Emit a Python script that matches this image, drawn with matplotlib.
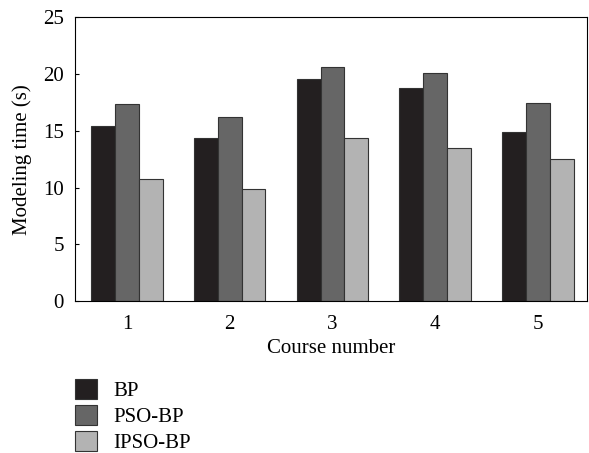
import matplotlib
matplotlib.use("Agg")
import matplotlib.pyplot as plt
import numpy as np
from matplotlib.patches import Patch

# Modeling time (s) per course.
courses = [1, 2, 3, 4, 5]
series_names = ["BP", "PSO-BP", "IPSO-BP"]
bp = [15.4, 14.4, 19.6, 18.8, 14.9]
pso_bp = [17.4, 16.2, 20.6, 20.1, 17.5]
ipso_bp = [10.8, 9.9, 14.4, 13.5, 12.5]

COLORS = ["#231f20", "#666666", "#b3b3b3"]

plt.rcParams["font.family"] = ["Liberation Serif", "DejaVu Serif"]
plt.rcParams["font.size"] = 15

fig = plt.figure(figsize=(5.89, 4.53), dpi=100)
ax = fig.add_axes([0.1273, 0.3355, 0.8693, 0.6259])

x = np.array(courses, dtype=float)
width = 0.232
for i, (vals, color) in enumerate(zip((bp, pso_bp, ipso_bp), COLORS)):
    ax.bar(x + (i - 1) * width, vals, width, color=color,
           edgecolor="#333333", linewidth=0.8)

ax.set_xlim(0.494, 5.477)
ax.set_ylim(0, 25)
ax.set_yticks([0, 5, 10, 15, 20, 25])
ax.set_xticks(courses)
ax.tick_params(axis="y", direction="in", length=3, width=0.8, pad=8)
ax.tick_params(axis="x", length=0, pad=10)
for spine in ax.spines.values():
    spine.set_linewidth(0.8)
ax.set_xlabel("Course number", labelpad=4)
ax.set_ylabel("Modeling time (s)", labelpad=8)

handles = [Patch(facecolor=c, edgecolor="#333333", linewidth=0.8, label=n)
           for c, n in zip(COLORS, series_names)]
fig.legend(handles=handles, loc="upper left",
           bbox_to_anchor=(0.113, 0.181), frameon=False,
           handlelength=1.05, handleheight=1.05, labelspacing=0.2,
           handletextpad=0.8, borderaxespad=0)

fig.savefig("out.png", dpi=100, facecolor="white")
